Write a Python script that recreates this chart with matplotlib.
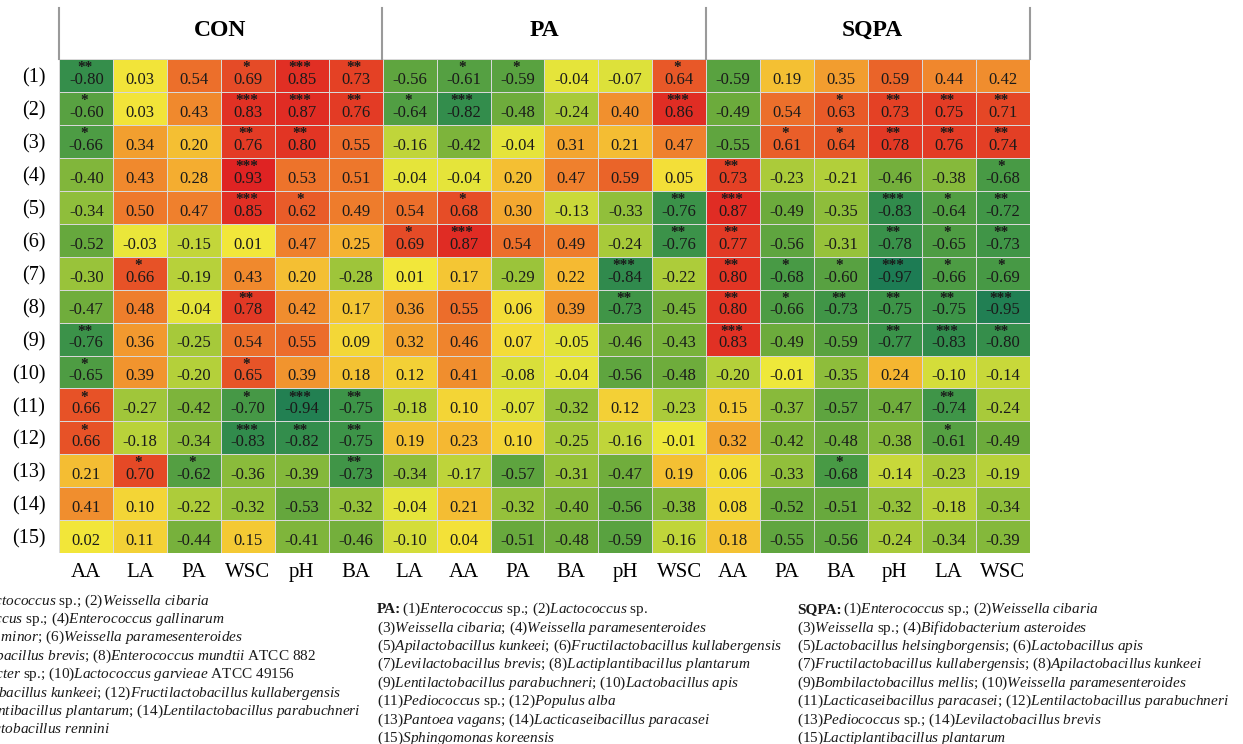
import numpy as np
import matplotlib
matplotlib.use("Agg")
import matplotlib.pyplot as plt
from matplotlib.colors import LinearSegmentedColormap
from matplotlib.lines import Line2D

plt.rcParams["font.family"] = ["Liberation Serif", "DejaVu Serif"]
plt.rcParams["mathtext.fontset"] = "custom"
plt.rcParams["mathtext.rm"] = "Liberation Serif"
plt.rcParams["mathtext.it"] = "Liberation Serif:italic"
plt.rcParams["mathtext.bf"] = "Liberation Serif:bold"

ROW_LABELS = [f"({i})" for i in range(1, 16)]
GROUPS = ["CON", "PA", "SQPA"]
CON_COLS = ["AA", "LA", "PA", "WSC", "pH", "BA"]
PA_COLS = ["LA", "AA", "PA", "BA", "pH", "WSC"]
SQPA_COLS = ["AA", "PA", "BA", "pH", "LA", "WSC"]

CON_R = [
    [-0.80, 0.03, 0.54, 0.69, 0.85, 0.73],
    [-0.60, 0.03, 0.43, 0.83, 0.87, 0.76],
    [-0.66, 0.34, 0.20, 0.76, 0.80, 0.55],
    [-0.40, 0.43, 0.28, 0.93, 0.53, 0.51],
    [-0.34, 0.50, 0.47, 0.85, 0.62, 0.49],
    [-0.52, -0.03, -0.15, 0.01, 0.47, 0.25],
    [-0.30, 0.66, -0.19, 0.43, 0.20, -0.28],
    [-0.47, 0.48, -0.04, 0.78, 0.42, 0.17],
    [-0.76, 0.36, -0.25, 0.54, 0.55, 0.09],
    [-0.65, 0.39, -0.20, 0.65, 0.39, 0.18],
    [0.66, -0.27, -0.42, -0.70, -0.94, -0.75],
    [0.66, -0.18, -0.34, -0.83, -0.82, -0.75],
    [0.21, 0.70, -0.62, -0.36, -0.39, -0.73],
    [0.41, 0.10, -0.22, -0.32, -0.53, -0.32],
    [0.02, 0.11, -0.44, 0.15, -0.41, -0.46],
]
CON_SIG = [
    [2, 0, 0, 1, 3, 2],
    [1, 0, 0, 3, 3, 2],
    [1, 0, 0, 2, 2, 0],
    [0, 0, 0, 3, 0, 0],
    [0, 0, 0, 3, 1, 0],
    [0, 0, 0, 0, 0, 0],
    [0, 1, 0, 0, 0, 0],
    [0, 0, 0, 2, 0, 0],
    [2, 0, 0, 0, 0, 0],
    [1, 0, 0, 1, 0, 0],
    [1, 0, 0, 1, 3, 2],
    [1, 0, 0, 3, 2, 2],
    [0, 1, 1, 0, 0, 2],
    [0, 0, 0, 0, 0, 0],
    [0, 0, 0, 0, 0, 0],
]

PA_R = [
    [-0.56, -0.61, -0.59, -0.04, -0.07, 0.64],
    [-0.64, -0.82, -0.48, -0.24, 0.40, 0.86],
    [-0.16, -0.42, -0.04, 0.31, 0.21, 0.47],
    [-0.04, -0.04, 0.20, 0.47, 0.59, 0.05],
    [0.54, 0.68, 0.30, -0.13, -0.33, -0.76],
    [0.69, 0.87, 0.54, 0.49, -0.24, -0.76],
    [0.01, 0.17, -0.29, 0.22, -0.84, -0.22],
    [0.36, 0.55, 0.06, 0.39, -0.73, -0.45],
    [0.32, 0.46, 0.07, -0.05, -0.46, -0.43],
    [0.12, 0.41, -0.08, -0.04, -0.56, -0.48],
    [-0.18, 0.10, -0.07, -0.32, 0.12, -0.23],
    [0.19, 0.23, 0.10, -0.25, -0.16, -0.01],
    [-0.34, -0.17, -0.57, -0.31, -0.47, 0.19],
    [-0.04, 0.21, -0.32, -0.40, -0.56, -0.38],
    [-0.10, 0.04, -0.51, -0.48, -0.59, -0.16],
]
PA_SIG = [
    [0, 1, 1, 0, 0, 1],
    [1, 3, 0, 0, 0, 3],
    [0, 0, 0, 0, 0, 0],
    [0, 0, 0, 0, 0, 0],
    [0, 1, 0, 0, 0, 2],
    [1, 3, 0, 0, 0, 2],
    [0, 0, 0, 0, 3, 0],
    [0, 0, 0, 0, 2, 0],
    [0, 0, 0, 0, 0, 0],
    [0, 0, 0, 0, 0, 0],
    [0, 0, 0, 0, 0, 0],
    [0, 0, 0, 0, 0, 0],
    [0, 0, 0, 0, 0, 0],
    [0, 0, 0, 0, 0, 0],
    [0, 0, 0, 0, 0, 0],
]

SQPA_R = [
    [-0.59, 0.19, 0.35, 0.59, 0.44, 0.42],
    [-0.49, 0.54, 0.63, 0.73, 0.75, 0.71],
    [-0.55, 0.61, 0.64, 0.78, 0.76, 0.74],
    [0.73, -0.23, -0.21, -0.46, -0.38, -0.68],
    [0.87, -0.49, -0.35, -0.83, -0.64, -0.72],
    [0.77, -0.56, -0.31, -0.78, -0.65, -0.73],
    [0.80, -0.68, -0.60, -0.97, -0.66, -0.69],
    [0.80, -0.66, -0.73, -0.75, -0.75, -0.95],
    [0.83, -0.49, -0.59, -0.77, -0.83, -0.80],
    [-0.20, -0.01, -0.35, 0.24, -0.10, -0.14],
    [0.15, -0.37, -0.57, -0.47, -0.74, -0.24],
    [0.32, -0.42, -0.48, -0.38, -0.61, -0.49],
    [0.06, -0.33, -0.68, -0.14, -0.23, -0.19],
    [0.08, -0.52, -0.51, -0.32, -0.18, -0.34],
    [0.18, -0.55, -0.56, -0.24, -0.34, -0.39],
]
SQPA_SIG = [
    [0, 0, 0, 0, 0, 0],
    [0, 0, 1, 2, 2, 2],
    [0, 1, 1, 2, 2, 2],
    [2, 0, 0, 0, 0, 1],
    [3, 0, 0, 3, 1, 2],
    [2, 0, 0, 2, 1, 2],
    [2, 1, 1, 3, 1, 1],
    [2, 1, 2, 2, 2, 3],
    [3, 0, 0, 2, 3, 2],
    [0, 0, 0, 0, 0, 0],
    [0, 0, 0, 0, 2, 0],
    [0, 0, 0, 0, 1, 0],
    [0, 0, 1, 0, 0, 0],
    [0, 0, 0, 0, 0, 0],
    [0, 0, 0, 0, 0, 0],
]

# (italic genus/species, roman suffix)
CON_TAXA = [
    ("Lactococcus", " sp."), ("Weissella cibaria", ""),
    ("Enterococcus", " sp."), ("Enterococcus gallinarum", ""),
    ("Weissella minor", ""), ("Weissella paramesenteroides", ""),
    ("Levilactobacillus brevis", ""), ("Enterococcus mundtii", " ATCC 882"),
    ("Enterobacter", " sp."), ("Lactococcus garvieae", " ATCC 49156"),
    ("Apilactobacillus kunkeei", ""), ("Fructilactobacillus kullabergensis", ""),
    ("Lactiplantibacillus plantarum", ""), ("Lentilactobacillus parabuchneri", ""),
    ("Loigolactobacillus rennini", ""),
]
PA_TAXA = [
    ("Enterococcus", " sp."), ("Lactococcus", " sp."),
    ("Weissella cibaria", ""), ("Weissella paramesenteroides", ""),
    ("Apilactobacillus kunkeei", ""), ("Fructilactobacillus kullabergensis", ""),
    ("Levilactobacillus brevis", ""), ("Lactiplantibacillus plantarum", ""),
    ("Lentilactobacillus parabuchneri", ""), ("Lactobacillus apis", ""),
    ("Pediococcus", " sp."), ("Populus alba", ""),
    ("Pantoea vagans", ""), ("Lacticaseibacillus paracasei", ""),
    ("Sphingomonas koreensis", ""),
]
SQPA_TAXA = [
    ("Enterococcus", " sp."), ("Weissella cibaria", ""),
    ("Weissella", " sp."), ("Bifidobacterium asteroides", ""),
    ("Lactobacillus helsingborgensis", ""), ("Lactobacillus apis", ""),
    ("Fructilactobacillus kullabergensis", ""), ("Apilactobacillus kunkeei", ""),
    ("Bombilactobacillus mellis", ""), ("Weissella paramesenteroides", ""),
    ("Lacticaseibacillus paracasei", ""), ("Lentilactobacillus parabuchneri", ""),
    ("Pediococcus", " sp."), ("Levilactobacillus brevis", ""),
    ("Lactiplantibacillus plantarum", ""),
]

W, H = 1243, 744


def fx(px):
    return px / W


def fy(py):
    return 1 - py / H


def taxon(i, name, suffix):
    it = name.replace(" ", r"\ ")
    return f"({i})$\\mathit{{{it}}}$" + suffix


def legend_lines(taxa):
    lines = []
    for k in range(0, len(taxa), 2):
        parts = [taxon(k + 1 + j, *taxa[k + j]) for j in range(2) if k + j < len(taxa)]
        lines.append("; ".join(parts))
    return lines


values = np.hstack([CON_R, PA_R, SQPA_R])
stars = np.hstack([CON_SIG, PA_SIG, SQPA_SIG])
col_labels = CON_COLS + PA_COLS + SQPA_COLS
n_rows, n_cols = values.shape

cmap = LinearSegmentedColormap.from_list(
    "corr",
    [
        (0.00, "#1a7a55"),
        (0.125, "#3d9448"),
        (0.25, "#6aaa3c"),
        (0.375, "#a5c93a"),
        (0.50, "#f2ea3a"),
        (0.625, "#f5b431"),
        (0.75, "#ee7a2c"),
        (0.875, "#e33d25"),
        (1.00, "#dd1a22"),
    ],
)

fig = plt.figure(figsize=(W / 100, H / 100), dpi=100)
left, right, top, bottom = 59.3, 1029.5, 59.3, 553.0
ax = fig.add_axes([fx(left), fy(bottom), fx(right) - fx(left), (bottom - top) / H])

ax.pcolormesh(
    np.arange(n_cols + 1) - 0.5,
    np.arange(n_rows + 1) - 0.5,
    values,
    cmap=cmap,
    vmin=-1,
    vmax=1,
    edgecolor="#d8d8d8",
    linewidth=0.7,
)
ax.set_xlim(-0.5, n_cols - 0.5)
ax.set_ylim(n_rows - 0.5, -0.5)

for r in range(n_rows):
    for c in range(n_cols):
        ax.text(c, r + 0.13, f"{values[r, c]:.2f}", ha="center", va="center",
                fontsize=12, color="#1a1a1a")
        if stars[r, c]:
            ax.text(c - 0.03, r - 0.13, "*" * stars[r, c], ha="center", va="baseline",
                    fontsize=11, fontweight="bold", color="#1a1a1a")

ax.set_xticks(range(n_cols))
ax.set_xticklabels(col_labels, fontsize=15)
ax.set_yticks(range(n_rows))
ax.set_yticklabels(ROW_LABELS, fontsize=14.5)
ax.tick_params(length=0)
ax.tick_params(axis="x", pad=7)
ax.tick_params(axis="y", pad=10)
for spine in ax.spines.values():
    spine.set_visible(False)

# group header strip
for xb in [59.3, 381.7, 706.0, 1029.5]:
    fig.add_artist(Line2D([fx(xb), fx(xb)], [fy(8), fy(59.3)], color="#9a9a9a", lw=1.5))
for name, xc in zip(GROUPS, [220.5, 544.0, 872.0]):
    fig.text(fx(xc), fy(30), name, ha="center", va="center", fontsize=17, fontweight="bold")

# species keys under the heatmap
renderer = fig.canvas.get_renderer()
blocks = [
    ("CON", CON_TAXA, -79, 604.5),
    ("PA", PA_TAXA, 377, 613.0),
    ("SQPA", SQPA_TAXA, 797, 613.0),
]
for group, taxa, x0, y0 in blocks:
    for i, line in enumerate(legend_lines(taxa)):
        x = x0
        if i == 0:
            head = fig.text(fx(x0), fy(y0), f"{group}:", ha="left", va="baseline",
                            fontsize=11, fontweight="bold", color="#1a1a1a")
            x = x0 + head.get_window_extent(renderer).width + 1
        fig.text(fx(x), fy(y0 + i * 18.4), line, ha="left", va="baseline",
                 fontsize=11, color="#1a1a1a")

fig.savefig("out.png", dpi=100)
